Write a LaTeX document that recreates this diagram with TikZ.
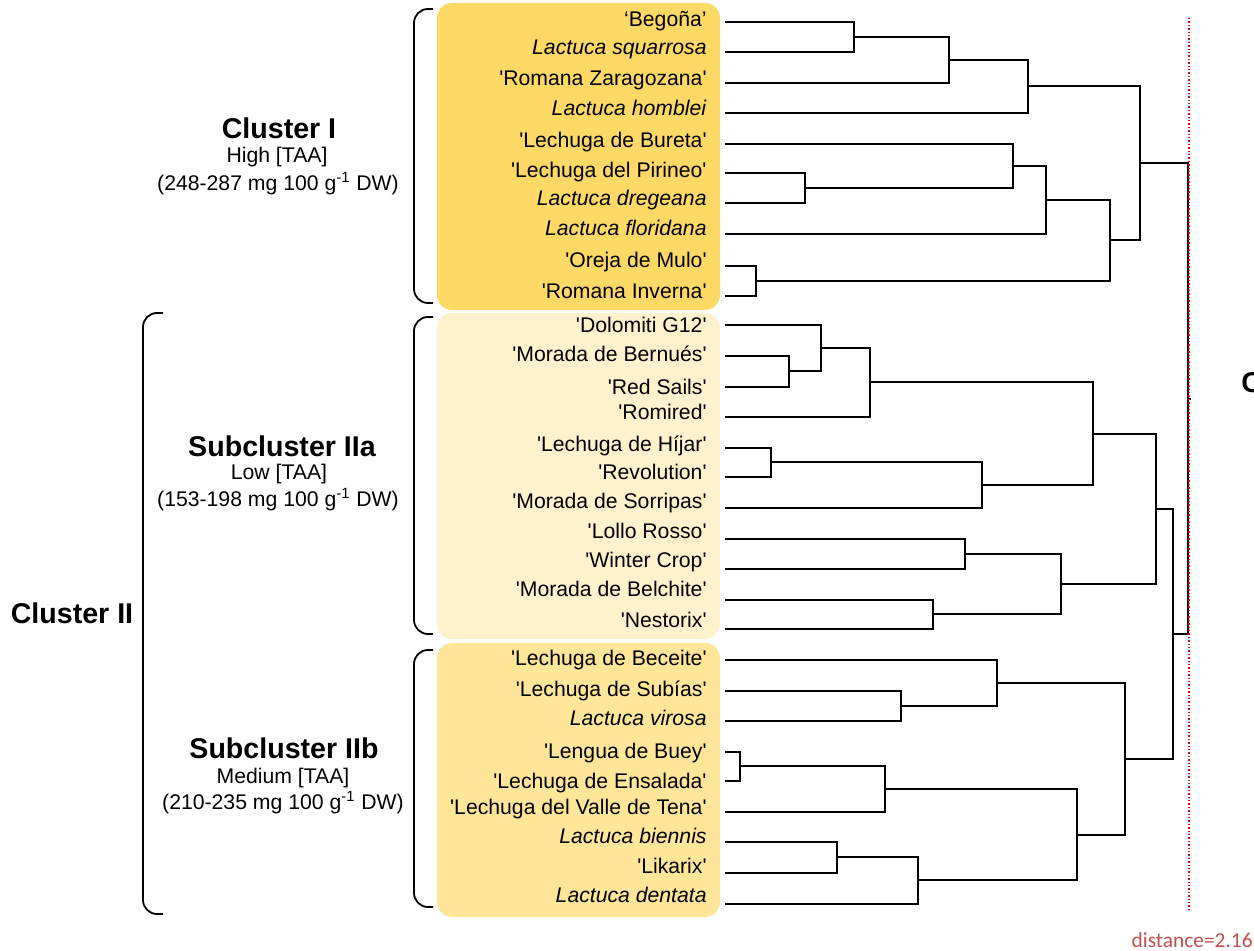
\documentclass[tikz,border=0pt]{standalone}
\usepackage{fontspec}
\setmainfont{Liberation Sans}[Ligatures=TeXOff]
\newfontfamily\calibri{Carlito}
\usetikzlibrary{calc}
\definecolor{goldI}{HTML}{FFD966}
\definecolor{goldIIa}{HTML}{FFF2CC}
\definecolor{goldIIb}{HTML}{FFE699}
\definecolor{cutred}{HTML}{FF0000}
\definecolor{distred}{HTML}{C0504D}

\begin{document}
\begin{tikzpicture}[x=0.5pt, y=-0.5pt,
  leaf/.style={anchor=east, inner sep=0pt, font=\fontsize{10.6pt}{12pt}\selectfont,
    text height=0.72em, text depth=0.2em},
  title/.style={inner sep=0pt, font=\fontsize{14.3pt}{17pt}\selectfont\bfseries},
  info/.style={inner sep=0pt, font=\fontsize{10.6pt}{12pt}\selectfont},
  branch/.style={line width=1pt, black},
  bracket/.style={line width=0.9pt, rounded corners=7pt},
  band/.style={rounded corners=7.5pt},
  cutline/.style={cutred, line width=0.7pt, densely dotted}]
  \useasboundingbox (0,0) rectangle (1254,951);

  % coloured bands behind the labels
  \fill[goldI, band] (437,3) rectangle (720,310);
  \fill[goldIIa, band] (437,313) rectangle (720,639);
  \fill[goldIIb, band] (437,643) rectangle (720,917);

  % brackets
  \draw[bracket] (433,9) -- (414,9) -- (414,303) -- (433,303);
  \draw[bracket] (433,317) -- (414,317) -- (414,634) -- (433,634);
  \draw[bracket] (433,650) -- (414,650) -- (414,907) -- (433,907);
  \draw[bracket] (163,313) -- (143,313) -- (143,914) -- (163,914);

  % group titles
  \node[title] (c1t) at (279,128) {Cluster I};
  \node[info] (c1h) at (277,157) {High [TAA]};
  \node[info] (c1r) at (278,184) {(248-287 mg 100 g\textsuperscript{-1} DW)};
  \node[title] (s2at) at (282,446) {Subcluster IIa};
  \node[info] (s2ah) at (279,474) {Low [TAA]};
  \node[info] (s2ar) at (278,500) {(153-198 mg 100 g\textsuperscript{-1} DW)};
  \node[title] (s2bt) at (284,748) {Subcluster IIb};
  \node[info] (s2bh) at (283,778) {Medium [TAA]};
  \node[info] (s2br) at (283,803) {(210-235 mg 100 g\textsuperscript{-1} DW)};
  \node[title] (c2t) at (72,613) {Cluster II};

  % leaves: name / line y / text y / label
  \foreach \n/\ly/\ty/\t in {
    1/22/21/{‘Begoña’},
    2/52/49/{\textit{Lactuca squarrosa}},
    3/83/80/{'Romana Zaragozana'},
    4/113/110/{\textit{Lactuca homblei}},
    5/144/142/{'Lechuga de Bureta'},
    6/173/172/{'Lechuga del Pirineo'},
    7/203/200/{\textit{Lactuca dregeana}},
    8/234/230/{\textit{Lactuca floridana}},
    9/266/262/{'Oreja de Mulo'},
    10/296/293/{'Romana Inverna'},
    11/325/327/{'Dolomiti G12'},
    12/356/356/{'Morada de Bernués'},
    13/387/389/{'Red Sails'},
    14/417/414/{'Romired'},
    15/448/446/{'Lechuga de Híjar'},
    16/477/474/{'Revolution'},
    17/508/503/{'Morada de Sorripas'},
    18/539/533/{'Lollo Rosso'},
    19/569/562/{'Winter Crop'},
    20/600/591/{'Morada de Belchite'},
    21/629/622/{'Nestorix'},
    22/660/660/{'Lechuga de Beceite'},
    23/691/691/{'Lechuga de Subías'},
    24/721/720/{\textit{Lactuca virosa}},
    25/752/753/{'Lengua de Buey'},
    26/781/783/{'Lechuga de Ensalada'},
    27/812/809/{'Lechuga del Valle de Tena'},
    28/842/838/{\textit{Lactuca biennis}},
    29/873/868/{'Likarix'},
    30/904/897/{\textit{Lactuca dentata}}}{
    \node[leaf] (p\n) at (707,\ty) {\t};
    \coordinate (e\n) at (725,\ly);
  }

  % joins of the tree
  \coordinate (j1) at (854,37);     \coordinate (j2) at (949,60);
  \coordinate (j3) at (1028,86.5);  \coordinate (j4) at (805,188);
  \coordinate (j5) at (1013,166);   \coordinate (j6) at (1046,200);
  \coordinate (j7) at (756,281);    \coordinate (j8) at (1110,240.5);
  \coordinate (j9) at (1140,163.5);
  \coordinate (k1) at (789,371.5);  \coordinate (k2) at (821,348);
  \coordinate (k3) at (870,382.5);  \coordinate (k4) at (771,462.5);
  \coordinate (k5) at (982,485);    \coordinate (k6) at (1093,434);
  \coordinate (k7) at (965,554);    \coordinate (k8) at (933,614.5);
  \coordinate (k9) at (1061,584);   \coordinate (k10) at (1156,509);
  \coordinate (m1) at (901,706);    \coordinate (m2) at (997,683);
  \coordinate (m3) at (740,766.5);  \coordinate (m4) at (885,789);
  \coordinate (m5) at (836.5,857.5);\coordinate (m6) at (918,880.5);
  \coordinate (m7) at (1077,835);   \coordinate (m8) at (1125,759);
  \coordinate (m9) at (1173,634);   \coordinate (root) at (1188,399);
  \coordinate (stem) at (1191,399);

  \foreach \j/\a/\b in {j1/e1/e2, j2/j1/e3, j3/j2/e4, j4/e6/e7, j5/e5/j4,
      j6/j5/e8, j7/e9/e10, j8/j6/j7, j9/j3/j8,
      k1/e12/e13, k2/e11/k1, k3/k2/e14, k4/e15/e16, k5/k4/e17, k6/k3/k5,
      k7/e18/e19, k8/e20/e21, k9/k7/k8, k10/k6/k9,
      m1/e23/e24, m2/e22/m1, m3/e25/e26, m4/m3/e27, m5/e28/e29, m6/m5/e30,
      m7/m4/m6, m8/m2/m7, m9/k10/m8, root/j9/m9}
    \draw[branch] (\a) -| (\j) |- (\b);
  \draw[branch] (root) -- (stem);

  % cut-off line
  \coordinate (cuttop) at (1189,18);
  \coordinate (cutbot) at (1189,910);
  \draw[cutline] (cuttop) -- (cutbot);
  \node[title, anchor=west] (cutlbl) at (1241,383) {C};
  \node[inner sep=0pt, anchor=east, text=distred,
    font=\calibri\fontsize{10.7pt}{12pt}\selectfont] (dist) at (1253,940) {distance=2.16};
\end{tikzpicture}
\end{document}
